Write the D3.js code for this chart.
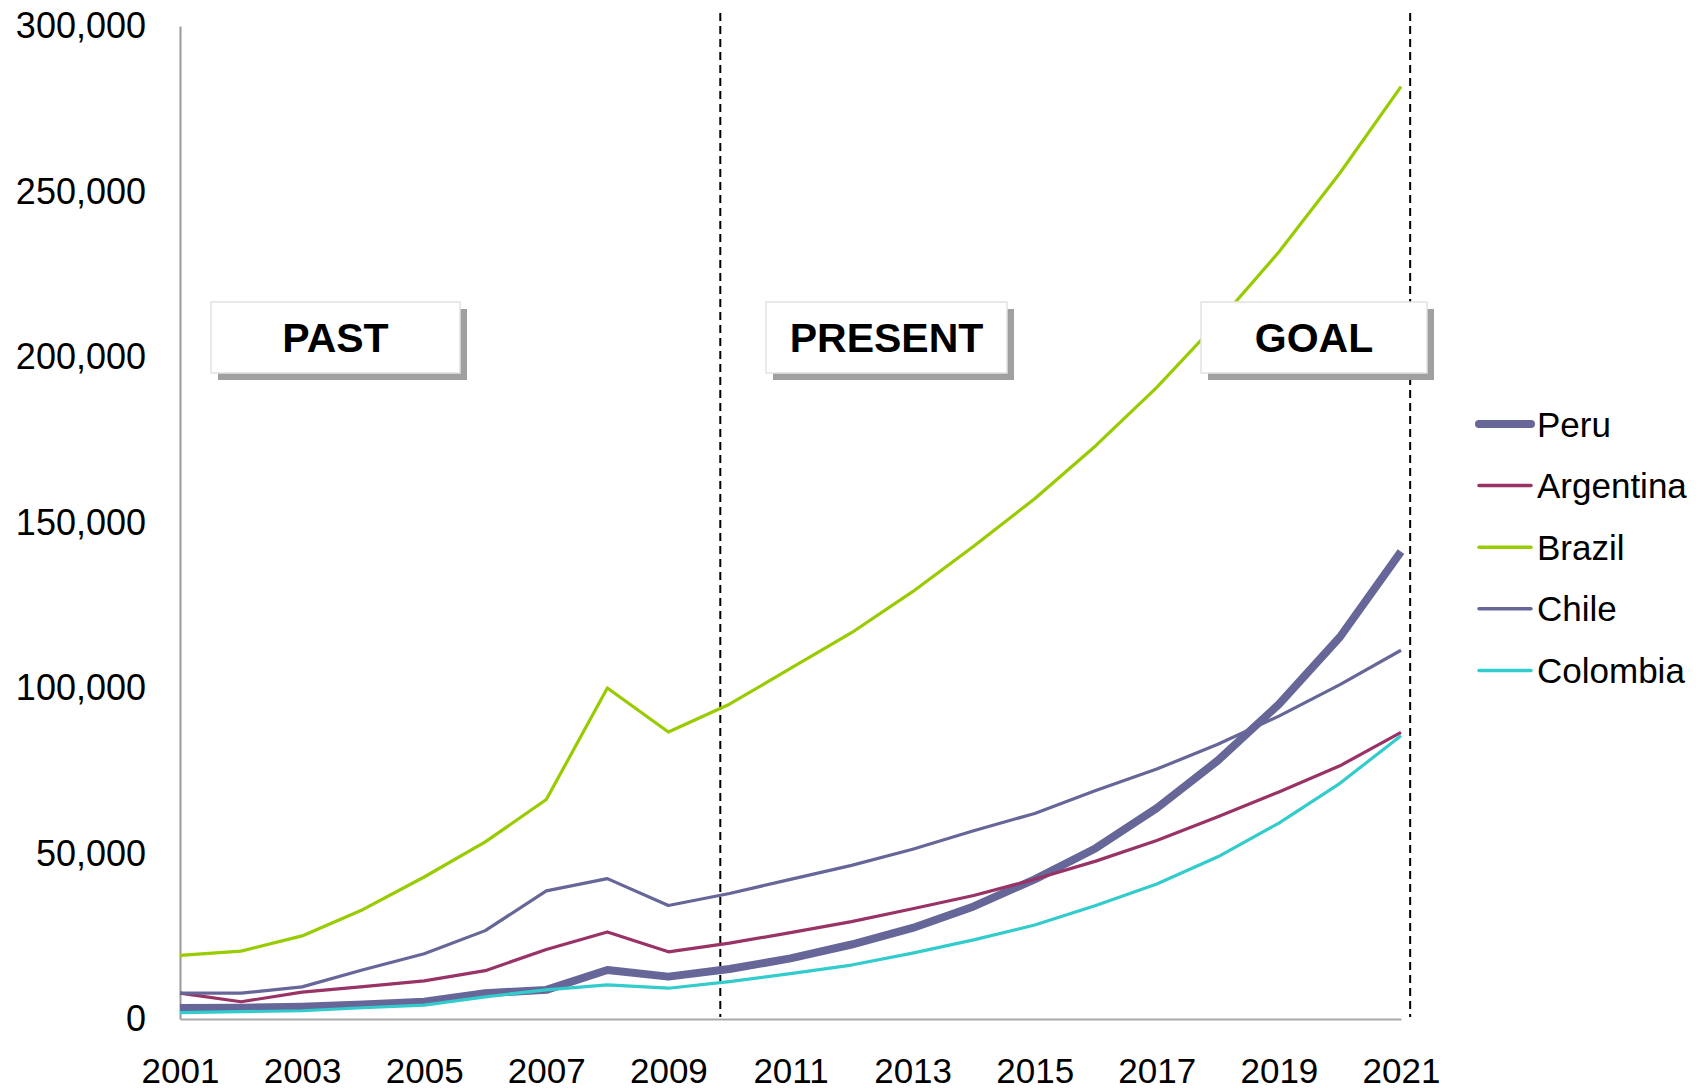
<!DOCTYPE html>
<html>
<head>
<meta charset="utf-8">
<script src="https://cdn.jsdelivr.net/npm/d3@7"></script>
<style>
  html, body { margin: 0; padding: 0; background: #fff; }
  svg { display: block; font-family: "Liberation Sans", Arial, sans-serif; }
</style>
</head>
<body>
<svg id="chart" width="1696" height="1091"></svg>
<script>
// Years on the horizontal axis
const years = [2001, 2002, 2003, 2004, 2005, 2006, 2007, 2008, 2009, 2010, 2011,
               2012, 2013, 2014, 2015, 2016, 2017, 2018, 2019, 2020, 2021];

// Series values, one per year
const peru      = [3300, 3400, 3700, 4400, 5200, 7800, 8800, 14800, 12800, 15100, 18300,
                   22500, 27500, 34000, 42200, 51600, 63700, 78100, 95100, 115400, 141200];
const argentina = [7800, 5200, 8100, 9800, 11500, 14600, 21000, 26300, 20300, 22900, 26100,
                   29400, 33300, 37300, 42200, 47700, 53900, 61100, 68600, 76500, 86600];
const brazil    = [19200, 20500, 25100, 33100, 42900, 53500, 66300, 100000, 86700, 95100, 105900,
                   116700, 129100, 142800, 157200, 173200, 190800, 210500, 231700, 255600, 281700];
const chile     = [7800, 7800, 9700, 14900, 19700, 26700, 38700, 42400, 34300, 37900, 42200,
                   46400, 51300, 56900, 62100, 69000, 75500, 83000, 91500, 101000, 111400];
const colombia  = [1900, 2200, 2500, 3400, 4200, 6700, 8800, 10300, 9300, 11300, 13700,
                   16300, 19900, 23900, 28400, 34300, 40800, 49000, 59200, 71200, 85600];

const seriesNames = ["Peru", "Argentina", "Brazil", "Chile", "Colombia"];
const seriesValues = [peru, argentina, brazil, chile, colombia];

// Axis ticks
const yTicks = [0, 50000, 100000, 150000, 200000, 250000, 300000];
const xTickLabels = [2001, 2003, 2005, 2007, 2009, 2011, 2013, 2015, 2017, 2019, 2021];

// Period markers (dashed dividers) and period labels
const dividers = [2009.85, 2021.15];
const periods = ["PAST", "PRESENT", "GOAL"];

const colors = {
  Peru: "#666699",
  Argentina: "#993366",
  Brazil: "#99cc00",
  Chile: "#666699",
  Colombia: "#33cccc"
};
const widths = { Peru: 8, Argentina: 3.2, Brazil: 3.2, Chile: 3.2, Colombia: 3.2 };

const svg = d3.select("#chart");

const x = d3.scaleLinear().domain([2001, 2021]).range([180, 1401]);
const y = d3.scaleLinear().domain([0, 300000]).range([1019, 26]);

// Y axis
const yAxis = svg.append("g")
  .attr("transform", `translate(${x(2001)},0)`)
  .call(d3.axisLeft(y).tickValues(yTicks).tickSize(0).tickPadding(34)
        .tickFormat(d3.format(",")));
yAxis.select(".domain").attr("stroke", "#999").attr("stroke-width", 2);
yAxis.selectAll("text").attr("font-size", 36).attr("fill", "#000")
  .attr("font-family", "'Liberation Sans', Arial, sans-serif");

// X axis
const xAxis = svg.append("g")
  .attr("transform", `translate(0,${y(0)})`)
  .call(d3.axisBottom(x).tickValues(xTickLabels).tickSize(0).tickPadding(39)
        .tickFormat(d3.format("d")));
xAxis.select(".domain").attr("stroke", "#aaa").attr("stroke-width", 2);
xAxis.selectAll("text").attr("font-size", 35).attr("fill", "#000")
  .attr("font-family", "'Liberation Sans', Arial, sans-serif");

// Dashed period dividers
svg.append("g").selectAll("line")
  .data(dividers)
  .join("line")
  .attr("x1", d => x(d)).attr("x2", d => x(d))
  .attr("y1", 13).attr("y2", y(0) - 2)
  .attr("stroke", "#000")
  .attr("stroke-width", 2)
  .attr("stroke-dasharray", "8,5");

// Series lines
const line = d3.line()
  .x((d, i) => x(years[i]))
  .y(d => y(d));

svg.append("g").selectAll("path")
  .data(seriesNames)
  .join("path")
  .attr("d", (name, i) => line(seriesValues[i]))
  .attr("fill", "none")
  .attr("stroke", name => colors[name])
  .attr("stroke-width", name => widths[name])
  .attr("stroke-linejoin", "round");

// Period label boxes with drop shadow
const boxes = [
  { label: periods[0], x: 211, w: 249 },
  { label: periods[1], x: 766, w: 241 },
  { label: periods[2], x: 1201, w: 226 }
];
const boxTop = 302, boxH = 71, shadow = 7;
const bg = svg.append("g").selectAll("g").data(boxes).join("g");
bg.append("rect")
  .attr("x", d => d.x + shadow).attr("y", boxTop + shadow)
  .attr("width", d => d.w).attr("height", boxH)
  .attr("fill", "#a0a0a0");
bg.append("rect")
  .attr("x", d => d.x).attr("y", boxTop)
  .attr("width", d => d.w).attr("height", boxH)
  .attr("fill", "#fff")
  .attr("stroke", "#e2e2e2").attr("stroke-width", 1.5);
bg.append("text")
  .attr("x", d => d.x + d.w / 2)
  .attr("y", boxTop + boxH / 2)
  .attr("dy", "0.36em")
  .attr("text-anchor", "middle")
  .attr("font-size", 41)
  .attr("font-weight", "bold")
  .attr("fill", "#000")
  .text(d => d.label);

// Legend
const legend = svg.append("g").selectAll("g")
  .data(seriesNames)
  .join("g")
  .attr("transform", (d, i) => `translate(0,${424 + i * 61.6})`);
legend.append("line")
  .attr("x1", 1479).attr("x2", 1531)
  .attr("y1", 0).attr("y2", 0)
  .attr("stroke", d => colors[d])
  .attr("stroke-width", d => d === "Peru" ? 8 : 3.5)
  .attr("stroke-linecap", "round");
legend.append("text")
  .attr("x", 1537).attr("y", 0).attr("dy", "0.36em")
  .attr("font-size", 35)
  .attr("fill", "#000")
  .text(d => d);
</script>
</body>
</html>
